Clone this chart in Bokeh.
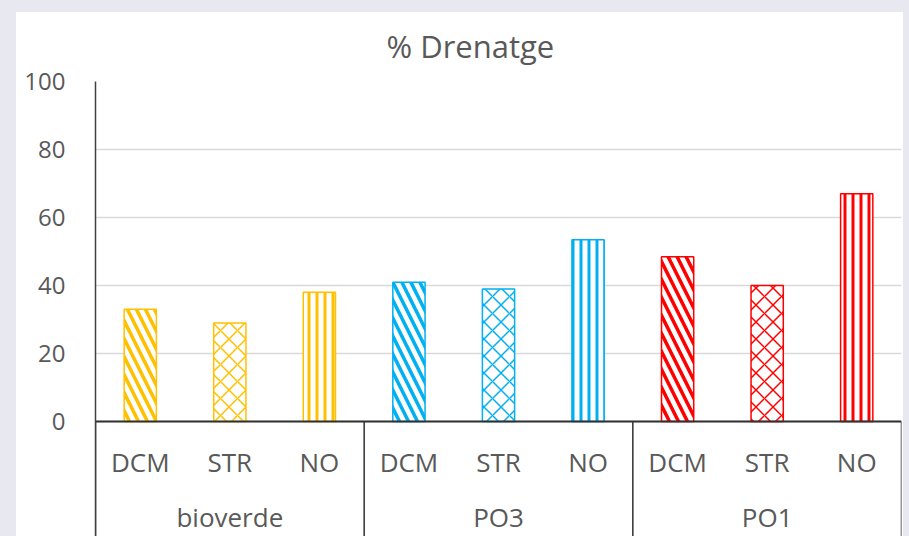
from bokeh.plotting import figure
from bokeh.models import FactorRange, Range1d, FixedTicker, ColumnDataSource, GlobalInlineStyleSheet
from bokeh.embed import file_html
from bokeh.resources import INLINE

# ---- data ----
groups = ["bioverde", "PO3", "PO1"]
treatments = ["DCM", "STR", "NO"]
drenatge_bioverde = [33, 29, 38]
drenatge_po3 = [41, 39, 53.5]
drenatge_po1 = [48.5, 40, 67]
y_ticks = [0, 20, 40, 60, 80, 100]
title_text = "% Drenatge"

# ---- styles ----
group_colors = {"bioverde": "#FFC000", "PO3": "#00B0F0", "PO1": "#FF0000"}
hatch_pattern = {"DCM": "\\", "STR": "x", "NO": "|"}
hatch_scale = {"DCM": 18, "STR": 17, "NO": 8}
hatch_weight = {"DCM": 3.5, "STR": 1.5, "NO": 3}
FONT = "Open Sans"
TXT = "#595959"

values = {"bioverde": drenatge_bioverde, "PO3": drenatge_po3, "PO1": drenatge_po1}
factors = [(g, t) for g in groups for t in treatments]
tops = [v for g in groups for v in values[g]]

src = ColumnDataSource(dict(
    x=factors,
    top=tops,
    color=[group_colors[g] for g, t in factors],
    hatch=[hatch_pattern[t] for g, t in factors],
    hscale=[hatch_scale[t] for g, t in factors],
    hweight=[hatch_weight[t] for g, t in factors],
))

x_range = FactorRange(*factors, factor_padding=0, subgroup_padding=0,
                      group_padding=0, range_padding=0)
AXIS_BOTTOM = -33.8
p = figure(x_range=x_range, y_range=Range1d(AXIS_BOTTOM, y_ticks[-1]),
           width=887, height=529, output_backend="svg", toolbar_location=None,
           min_border_left=79, min_border_right=2, min_border_top=74,
           min_border_bottom=0, title=title_text)
p.margin = (7, 0, 0, 16)

p.background_fill_color = "white"
p.border_fill_color = None
p.outline_line_color = None

p.title.text_font = FONT
p.title.text_font_size = "31px"
p.title.text_font_style = "normal"
p.title.text_color = TXT
p.title.align = "left"
p.title.offset = 291
p.title.standoff = 30

# y axis
p.yaxis.ticker = FixedTicker(ticks=y_ticks)
p.yaxis.major_tick_line_color = None
p.yaxis.minor_tick_line_color = None
p.yaxis.major_label_standoff = 24
p.yaxis.major_label_text_font = FONT
p.yaxis.major_label_text_font_size = "24px"
p.yaxis.major_label_text_color = TXT
p.yaxis.axis_line_color = "#404040"
p.yaxis.axis_line_width = 1.5

p.ygrid.ticker = FixedTicker(ticks=y_ticks)
p.ygrid.grid_line_color = "#D9D9D9"
p.ygrid.grid_line_width = 1.5
p.xgrid.visible = False

# x axis at y = 0
xa = p.xaxis[0]
xa.fixed_location = 0
xa.axis_line_color = "#303030"
xa.axis_line_width = 2
xa.major_tick_line_color = None
xa.minor_tick_line_color = None
xa.separator_line_color = None
xa.major_label_standoff = 16
xa.major_label_text_font = FONT
xa.major_label_text_font_size = "26px"
xa.major_label_text_color = TXT
xa.group_text_font = FONT
xa.group_text_font_size = "26px"
xa.group_text_font_style = "normal"
xa.group_text_color = TXT

p.vbar(x="x", top="top", width=0.36, source=src,
       fill_color="white", line_color="color", line_width=1.5,
       hatch_pattern="hatch", hatch_color="color",
       hatch_scale="hscale", hatch_weight="hweight")

# group box lines below the axis
sep_x = [(g, treatments[0], -0.5) for g in groups] + [(groups[-1], treatments[-1], 0.5)]
p.segment(x0=sep_x, y0=[0] * len(sep_x), x1=sep_x, y1=[AXIS_BOTTOM] * len(sep_x),
          line_color="#303030", line_width=1.5)

p.stylesheets = [GlobalInlineStyleSheet(css=(
    "html{overflow:hidden;background:linear-gradient(#FFFFFF,#FFFFFF) 16px 12px / 887px 524px no-repeat, #E8E8F0;}"
    "body{margin:0;padding:0;overflow:hidden;background:transparent;}"))]

open("out.html", "w").write(file_html(p, INLINE))
